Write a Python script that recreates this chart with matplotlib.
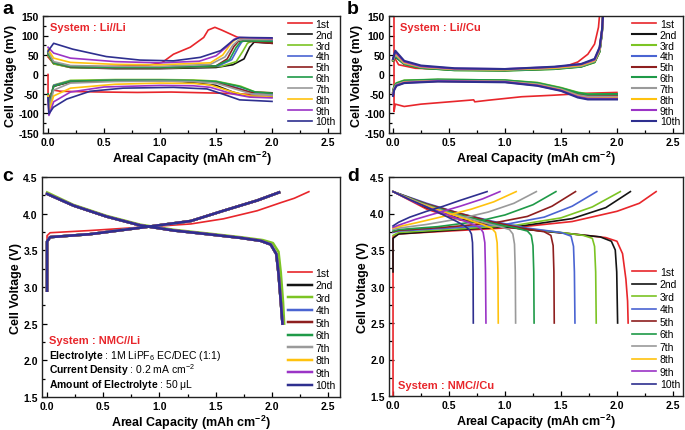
import matplotlib
matplotlib.use('Agg')
import matplotlib.pyplot as plt
from matplotlib.ticker import MultipleLocator, FormatStrFormatter

plt.rcParams['font.family'] = ['Liberation Sans', 'DejaVu Sans']
plt.rcParams['mathtext.fontset'] = 'custom'
plt.rcParams['mathtext.rm'] = 'Liberation Sans'
plt.rcParams['mathtext.bf'] = 'Liberation Sans:bold'
plt.rcParams['mathtext.it'] = 'Liberation Sans:italic'
plt.rcParams['mathtext.default'] = 'regular'

cycle_labels = ['1st', '2nd', '3rd', '4th', '5th', '6th', '7th', '8th', '9th', '10th']
cycle_colors = ['#e8262b', '#141414', '#7cc424', '#4a64d2', '#8e1f1f',
                '#1f9a48', '#9a9a9a', '#ffc20e', '#9b34c6', '#2e2f8f']

# ---------------- Panel a : Li//Li (mV) ----------------
a_up_x = [
    [0.0, 0.05, 0.2, 0.5, 0.9, 1.02, 1.12, 1.27, 1.39, 1.43, 1.49, 1.55, 1.68, 1.77, 2.0],
    [0.0, 0.05, 0.2, 0.6, 1.0, 1.5, 1.65, 1.75, 1.80, 1.84, 2.0],
    [0.0, 0.05, 0.2, 0.6, 1.0, 1.55, 1.68, 1.74, 1.78, 1.82, 2.0],
    [0.0, 0.05, 0.2, 0.6, 1.0, 1.52, 1.64, 1.70, 1.74, 1.78, 2.0],
    [0.0, 0.05, 0.2, 0.6, 1.0, 1.50, 1.60, 1.66, 1.70, 1.75, 2.0],
    [0.0, 0.05, 0.2, 0.6, 1.0, 1.50, 1.62, 1.68, 1.72, 1.76, 2.0],
    [0.0, 0.05, 0.2, 0.6, 1.0, 1.45, 1.58, 1.65, 1.70, 1.74, 2.0],
    [0.0, 0.05, 0.2, 0.6, 1.0, 1.45, 1.56, 1.63, 1.68, 1.72, 2.0],
    [0.0, 0.05, 0.2, 0.6, 1.0, 1.35, 1.50, 1.60, 1.66, 1.70, 2.0],
    [0.0, 0.05, 0.22, 0.52, 0.82, 1.12, 1.36, 1.54, 1.65, 1.71, 2.0],
]
a_up_v = [
    [45, 28, 22, 20, 24, 31, 52, 70, 95, 114, 121, 114, 97, 88, 82],
    [50, 28, 18, 15, 15, 18, 25, 40, 70, 83, 80],
    [50, 27, 18, 16, 16, 21, 33, 60, 80, 86, 85],
    [55, 30, 19, 17, 17, 22, 38, 70, 88, 91, 88],
    [55, 30, 19, 17, 17, 22, 40, 72, 85, 86, 80],
    [55, 30, 20, 18, 18, 22, 38, 70, 84, 86, 85],
    [60, 33, 23, 21, 21, 26, 45, 75, 88, 90, 90],
    [65, 42, 31, 26, 25, 30, 50, 78, 92, 94, 92],
    [70, 55, 42, 33, 30, 34, 48, 72, 90, 95, 92],
    [60, 80, 65, 46, 37, 35, 44, 61, 87, 95, 94],
]
a_dn_x = [
    [0.0, 0.0, 0.05, 0.11, 0.5, 0.8, 1.1, 1.4, 1.55, 1.7, 2.0],
    [0.0, 0.008, 0.05, 0.2, 0.6, 1.0, 1.2, 1.5, 1.65, 1.78, 2.0],
    [0.0, 0.008, 0.05, 0.2, 0.6, 1.0, 1.3, 1.5, 1.72, 1.85, 2.0],
    [0.0, 0.008, 0.05, 0.2, 0.6, 1.0, 1.3, 1.5, 1.70, 1.85, 2.0],
    [0.0, 0.008, 0.05, 0.2, 0.6, 1.0, 1.3, 1.5, 1.68, 1.80, 2.0],
    [0.0, 0.008, 0.05, 0.2, 0.6, 1.0, 1.3, 1.5, 1.70, 1.85, 2.0],
    [0.0, 0.008, 0.05, 0.2, 0.6, 1.0, 1.3, 1.5, 1.68, 1.82, 2.0],
    [0.0, 0.008, 0.05, 0.2, 0.6, 1.0, 1.3, 1.45, 1.65, 1.80, 2.0],
    [0.0, 0.008, 0.05, 0.2, 0.5, 1.0, 1.3, 1.45, 1.65, 1.80, 2.0],
    [0.0, 0.008, 0.048, 0.167, 0.375, 0.67, 1.12, 1.42, 1.60, 1.71, 2.0],
]
a_dn_v = [
    [0, -60, -40, -43, -45, -46, -45, -47, -48, -50, -52],
    [-50, -70, -30, -19, -16, -16, -18, -28, -45, -55, -58],
    [-50, -75, -27, -15, -13, -13, -14, -17, -30, -45, -47],
    [-50, -80, -28, -17, -15, -15, -16, -19, -35, -50, -52],
    [-50, -85, -30, -18, -16, -16, -17, -20, -35, -45, -47],
    [-50, -85, -30, -17, -15, -15, -16, -18, -30, -45, -48],
    [-55, -90, -40, -22, -18, -17, -18, -22, -38, -50, -53],
    [-55, -95, -55, -35, -25, -22, -23, -27, -45, -55, -58],
    [-60, -105, -70, -45, -32, -28, -29, -33, -50, -58, -60],
    [-60, -101, -84, -63, -43, -35, -33, -37, -54, -65, -69],
]

# ---------------- Panel b : Li//Cu (mV) ----------------
b_up_x1 = [0.01, 0.05, 0.2, 0.6, 1.0, 1.4, 1.55, 1.65, 1.74, 1.80, 1.835, 1.85]
b_up_v1 = [45, 25, 16, 12, 12, 16, 22, 32, 52, 78, 121, 170]
b_dn_x1 = [0.008, 0.009, 0.02, 0.1, 0.25, 0.55, 0.72, 0.73, 0.85, 1.15, 1.44, 1.74, 2.0]
b_dn_v1 = [400, -95, -76, -82, -76, -69, -65, -70, -66, -57, -53, -48, -46]
b_up_x = [0.0, 0.02, 0.1, 0.25, 0.55, 1.0, 1.44, 1.68, 1.80, 1.845, 1.866, 1.88]
b_up_v = [
    None,
    [35, 46, 27, 17, 12, 11, 15, 21, 32, 60, 108, 170],
    [36, 48, 27, 17, 11, 10, 14, 20, 31, 58, 106, 170],
    [38, 52, 29, 19, 13, 12, 16, 22, 34, 63, 110, 170],
    [37, 50, 28, 18, 12, 11, 15, 21, 33, 61, 109, 170],
    [36, 47, 27, 17, 11, 10, 14, 20, 32, 59, 107, 170],
    [38, 51, 29, 19, 13, 12, 16, 22, 34, 62, 110, 170],
    [39, 55, 31, 20, 14, 13, 17, 24, 36, 66, 111, 170],
    [40, 58, 33, 21, 15, 14, 19, 26, 38, 68, 112, 170],
    [40, 61, 35, 23, 16, 14, 20, 27, 40, 70, 113, 170],
]
b_dn_x = [0.0, 0.01, 0.03, 0.1, 0.4, 1.0, 1.29, 1.5, 1.65, 1.74, 2.0]
b_dn_v = [
    None,
    [-45, -32, -24, -17, -14, -16, -23, -36, -48, -52, -51],
    [-44, -30, -22, -15, -13, -15, -21, -34, -46, -50, -50],
    [-50, -36, -27, -19, -16, -18, -26, -39, -54, -59, -59],
    [-47, -34, -25, -18, -15, -17, -24, -37, -51, -55, -55],
    [-45, -31, -23, -16, -13, -15, -22, -35, -47, -51, -50],
    [-48, -35, -26, -19, -16, -18, -25, -38, -53, -57, -57],
    [-52, -38, -28, -20, -17, -19, -27, -40, -56, -61, -60],
    [-53, -39, -28, -21, -17, -19, -28, -41, -57, -62, -62],
    [-55, -40, -29, -22, -18, -20, -29, -42, -59, -64, -64],
]

# ---------------- Panel c : NMC//Li (V) ----------------
c_chg_x1 = [0.0, 0.0, 0.027, 0.38, 0.89, 1.28, 1.57, 1.87, 2.08, 2.2, 2.33]
c_chg_v1 = [3.0, 3.70, 3.74, 3.77, 3.82, 3.86, 3.93, 4.04, 4.15, 4.21, 4.30]
c_chg_x = [0.0, 0.0, 0.027, 0.38, 0.89, 1.28, 1.57, 1.87, 2.065]
c_chg_v = [2.95, 3.62, 3.68, 3.72, 3.82, 3.90, 4.04, 4.18, 4.29]
c_dis_x = [0.0, 0.235, 0.53, 0.83, 1.13, 1.43, 1.72, 1.90, 1.99, 2.04, 2.06, 2.08, 2.095]
c_dis_v = [4.27, 4.11, 3.96, 3.84, 3.77, 3.72, 3.67, 3.63, 3.58, 3.45, 3.18, 2.8, 2.5]
c_dis_x3 = [0.0, 0.235, 0.53, 0.83, 1.13, 1.43, 1.72, 1.92, 2.01, 2.06, 2.08, 2.10, 2.11]
c_dis_v3 = [4.29, 4.12, 3.97, 3.85, 3.78, 3.73, 3.68, 3.64, 3.60, 3.48, 3.20, 2.8, 2.5]

# ---------------- Panel d : NMC//Cu (V) ----------------
d_chg_x = [
    [0.0, 0.0, 0.05, 0.5, 1.1, 1.6, 2.0, 2.2, 2.35],
    [0.0, 0.0, 0.05, 0.6, 1.15, 1.6, 1.9, 2.12],
    [0.0, 0.05, 0.6, 1.1, 1.5, 1.78, 2.03],
    [0.0, 0.05, 0.5, 1.0, 1.35, 1.6, 1.82],
    [0.0, 0.05, 0.45, 0.9, 1.2, 1.42, 1.63],
    [0.0, 0.05, 0.4, 0.75, 1.0, 1.25, 1.455],
    [0.0, 0.05, 0.3, 0.6, 0.85, 1.08, 1.28],
    [0.0, 0.05, 0.2, 0.45, 0.7, 0.9, 1.10],
    [0.0, 0.05, 0.2, 0.4, 0.6, 0.8, 0.955],
    [0.0, 0.05, 0.15, 0.3, 0.45, 0.6, 0.72, 0.84],
]
d_chg_v = [
    [1.0, 3.68, 3.72, 3.76, 3.81, 3.89, 4.03, 4.14, 4.30],
    [3.2, 3.66, 3.72, 3.78, 3.83, 3.93, 4.08, 4.30],
    [3.70, 3.74, 3.79, 3.84, 3.94, 4.09, 4.30],
    [3.74, 3.76, 3.80, 3.85, 3.95, 4.10, 4.30],
    [3.75, 3.77, 3.81, 3.87, 3.96, 4.10, 4.30],
    [3.76, 3.78, 3.82, 3.89, 3.98, 4.12, 4.30],
    [3.78, 3.80, 3.85, 3.93, 4.02, 4.14, 4.30],
    [3.80, 3.82, 3.87, 3.96, 4.06, 4.16, 4.30],
    [3.81, 3.84, 3.92, 4.01, 4.10, 4.20, 4.30],
    [3.83, 3.88, 3.95, 4.03, 4.10, 4.18, 4.24, 4.30],
]
d_dis_x = [
    [0.0, 0.3, 0.6, 0.9, 1.2, 1.6, 1.9, 2.0, 2.05, 2.08, 2.095, 2.10],
    [0.0, 0.3, 0.6, 0.9, 1.2, 1.6, 1.85, 1.95, 1.985, 1.998, 2.006],
    [0.0, 0.3, 0.6, 0.9, 1.2, 1.5, 1.7, 1.78, 1.80, 1.81, 1.815],
    [0.0, 0.3, 0.6, 0.9, 1.2, 1.5, 1.59, 1.612, 1.62, 1.625],
    [0.0, 0.3, 0.6, 0.9, 1.15, 1.35, 1.41, 1.43, 1.437, 1.44],
    [0.0, 0.3, 0.6, 0.9, 1.1, 1.2, 1.235, 1.25, 1.257, 1.26],
    [0.0, 0.25, 0.5, 0.75, 0.95, 1.04, 1.07, 1.085, 1.092, 1.095],
    [0.0, 0.2, 0.4, 0.6, 0.8, 0.88, 0.915, 0.93, 0.937, 0.94],
    [0.0, 0.2, 0.4, 0.6, 0.72, 0.78, 0.805, 0.82, 0.826, 0.83],
    [0.0, 0.15, 0.3, 0.45, 0.57, 0.64, 0.68, 0.70, 0.71, 0.715, 0.717],
]
d_dis_v = [
    [4.30, 4.06, 3.91, 3.83, 3.78, 3.72, 3.67, 3.62, 3.45, 3.1, 2.8, 2.5],
    [4.30, 4.08, 3.93, 3.84, 3.78, 3.72, 3.68, 3.62, 3.5, 3.2, 2.5],
    [4.30, 4.12, 3.98, 3.87, 3.79, 3.74, 3.70, 3.66, 3.55, 3.2, 2.5],
    [4.30, 4.14, 4.00, 3.89, 3.80, 3.74, 3.69, 3.55, 3.2, 2.5],
    [4.30, 4.13, 4.00, 3.88, 3.80, 3.75, 3.70, 3.56, 3.2, 2.5],
    [4.30, 4.12, 3.98, 3.86, 3.80, 3.76, 3.70, 3.56, 3.2, 2.5],
    [4.30, 4.14, 4.01, 3.90, 3.82, 3.78, 3.72, 3.58, 3.2, 2.5],
    [4.30, 4.16, 4.05, 3.95, 3.85, 3.80, 3.74, 3.6, 3.2, 2.5],
    [4.30, 4.15, 4.03, 3.92, 3.85, 3.80, 3.74, 3.6, 3.2, 2.5],
    [4.30, 4.19, 4.09, 3.98, 3.89, 3.83, 3.78, 3.72, 3.6, 3.2, 2.5],
]

LW = 1.2
TICK_FS = 7.5
LABEL_FS = 9
LEG_FS = 7.5

fig = plt.figure(figsize=(6.85, 4.31), dpi=100)

ax_a = fig.add_axes([43/685, 1-134/431, 297/685, 117/431])
ax_b = fig.add_axes([389/685, 1-134/431, 294/685, 117/431])
ax_c = fig.add_axes([42/685, 1-398/431, 298/685, 220/431])
ax_d = fig.add_axes([389/685, 1-397/431, 294/685, 219/431])


def style(ax, xlim, ylim, ymaj, ymin, yfmt, ylabel):
    ax.set_xlim(*xlim)
    ax.set_ylim(*ylim)
    ax.xaxis.set_major_locator(MultipleLocator(0.5))
    ax.xaxis.set_minor_locator(MultipleLocator(0.25))
    ax.yaxis.set_major_locator(MultipleLocator(ymaj))
    ax.yaxis.set_minor_locator(MultipleLocator(ymin))
    ax.xaxis.set_major_formatter(FormatStrFormatter('%.1f'))
    ax.yaxis.set_major_formatter(FormatStrFormatter(yfmt))
    ax.tick_params(which='both', direction='in', top=False, right=False,
                   labelsize=TICK_FS, width=0.9)
    ax.tick_params(which='major', length=3.5, pad=3)
    ax.tick_params(which='minor', length=2)
    for lab in ax.get_xticklabels() + ax.get_yticklabels():
        lab.set_fontweight('bold')
    for s in ax.spines.values():
        s.set_linewidth(1.0)
        s.set_color('#222222')
    ax.set_xlabel('Areal Capacity (mAh cm$^{-2}$)', fontsize=LABEL_FS,
                  fontweight='bold', labelpad=1)
    ax.set_ylabel(ylabel, fontsize=LABEL_FS, fontweight='bold', labelpad=1)


# Panel a
for i in range(10):
    ax_a.plot(a_up_x[i], a_up_v[i], color=cycle_colors[i], lw=LW, label=cycle_labels[i])
    ax_a.plot(a_dn_x[i], a_dn_v[i], color=cycle_colors[i], lw=LW)
style(ax_a, (-0.045, 2.607), (-150, 150), 50, 25, '%d', 'Cell Voltage (mV)')

# Panel b
for i in range(10):
    if i == 0:
        ax_b.plot(b_up_x1, b_up_v1, color=cycle_colors[i], lw=LW, label=cycle_labels[i])
        ax_b.plot(b_dn_x1, b_dn_v1, color=cycle_colors[i], lw=LW)
    else:
        ax_b.plot(b_up_x, b_up_v[i], color=cycle_colors[i], lw=LW + 0.3, label=cycle_labels[i])
        ax_b.plot(b_dn_x, b_dn_v[i], color=cycle_colors[i], lw=LW + 0.3)
style(ax_b, (-0.036, 2.59), (-150, 150), 50, 25, '%d', 'Cell Voltage (mV)')

# Panel c
for i in range(10):
    if i == 0:
        ax_c.plot(c_chg_x1, c_chg_v1, color=cycle_colors[i], lw=LW, label=cycle_labels[i])
        ax_c.plot(c_dis_x, c_dis_v, color=cycle_colors[i], lw=LW)
    elif i == 2:
        ax_c.plot(c_chg_x, c_chg_v, color=cycle_colors[i], lw=LW + 0.6, label=cycle_labels[i])
        ax_c.plot(c_dis_x3, c_dis_v3, color=cycle_colors[i], lw=LW + 0.6)
    else:
        ax_c.plot(c_chg_x, c_chg_v, color=cycle_colors[i], lw=LW + 0.6, label=cycle_labels[i])
        ax_c.plot(c_dis_x, c_dis_v, color=cycle_colors[i], lw=LW + 0.6)
style(ax_c, (-0.045, 2.607), (1.5, 4.5), 0.5, 0.25, '%.1f', 'Cell Voltage (V)')

# Panel d
for i in range(10):
    ax_d.plot(d_chg_x[i], d_chg_v[i], color=cycle_colors[i], lw=LW, label=cycle_labels[i])
    ax_d.plot(d_dis_x[i], d_dis_v[i], color=cycle_colors[i], lw=LW)
style(ax_d, (-0.036, 2.59), (1.5, 4.5), 0.5, 0.25, '%.1f', 'Cell Voltage (V)')

leg_kw = dict(frameon=False, fontsize=LEG_FS, handlelength=2.3, handletextpad=0.35,
              borderpad=0, borderaxespad=0)
ax_a.legend(loc='upper right', bbox_to_anchor=(0.985, 0.975), labelspacing=0.08, **leg_kw)
ax_b.legend(loc='upper right', bbox_to_anchor=(0.99, 0.975), labelspacing=0.08, **leg_kw)
ax_c.legend(loc='lower right', bbox_to_anchor=(0.985, 0.03), labelspacing=0.24, **leg_kw)
ax_d.legend(loc='lower right', bbox_to_anchor=(0.99, 0.03), labelspacing=0.24, **leg_kw)

red = '#e8262b'
ax_a.text(0.024, 0.905, 'System : Li//Li', color=red, fontweight='bold', fontsize=8,
          transform=ax_a.transAxes, va='center', ha='left')
ax_b.text(0.037, 0.905, 'System : Li//Cu', color=red, fontweight='bold', fontsize=8,
          transform=ax_b.transAxes, va='center', ha='left')
ax_d.text(0.031, 0.052, 'System : NMC//Cu', color=red, fontweight='bold', fontsize=8,
          transform=ax_d.transAxes, va='center', ha='left')
ax_c.text(0.024, 0.259, 'System : NMC//Li', color=red, fontweight='bold', fontsize=8,
          transform=ax_c.transAxes, va='center', ha='left')
ax_c.text(0.024, 0.192, r'$\mathbf{Electrolyte}$ : 1M LiPF$_6$ EC/DEC (1:1)', fontsize=7.5,
          transform=ax_c.transAxes, va='center', ha='left')
ax_c.text(0.024, 0.126, r'$\mathbf{Current\ Density}$ : 0.2 mA cm$^{-2}$', fontsize=7.5,
          transform=ax_c.transAxes, va='center', ha='left')
ax_c.text(0.024, 0.060, r'$\mathbf{Amount\ of\ Electrolyte}$ : 50 μL', fontsize=7.5,
          transform=ax_c.transAxes, va='center', ha='left')

for lab, x, y in [('a', 2/685, 1 - 1/431), ('b', 347/685, 1 - 1/431),
                  ('c', 2/685, 1 - 168/431), ('d', 347/685, 1 - 168/431)]:
    fig.text(x, y, lab, fontsize=14, fontweight='bold', va='top', ha='left')

fig.savefig('out.png', dpi=100)
